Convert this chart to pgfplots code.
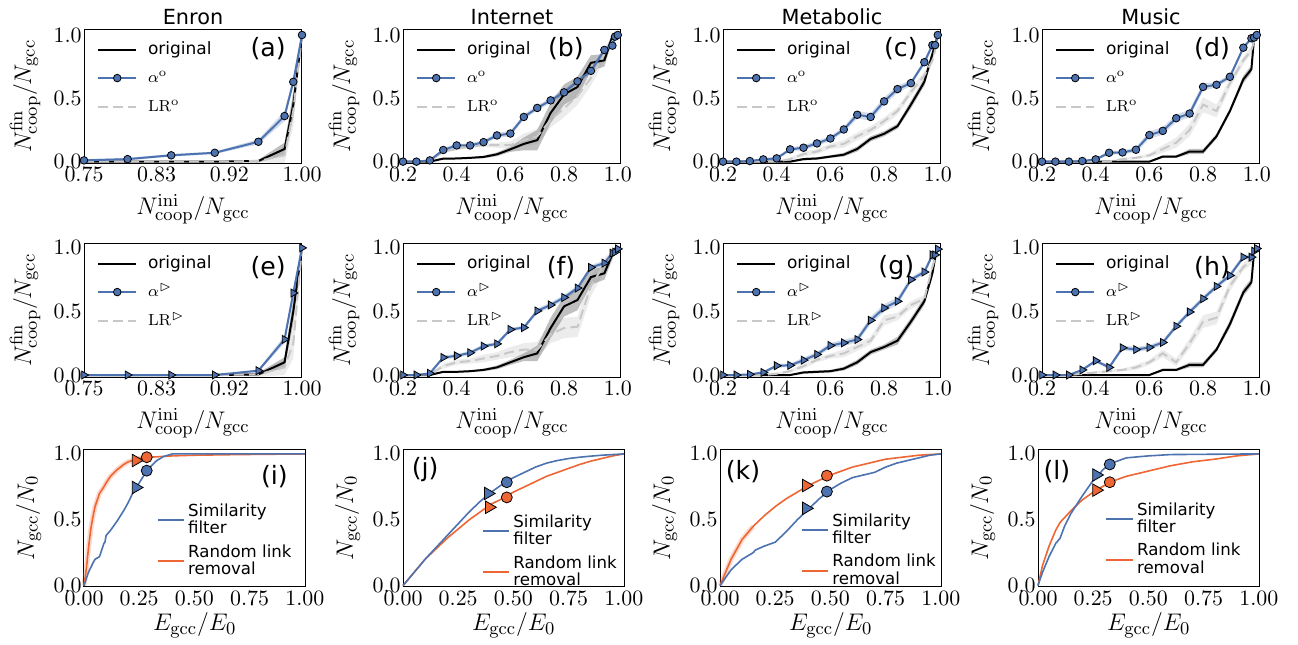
\documentclass[border=0pt]{standalone}
\usepackage{amssymb}
\usepackage[no-math]{fontspec}
\setmainfont{DejaVu Sans}
\usepackage{pgfplots}
\pgfplotsset{compat=1.18}
\usepackage{pgfplotstable}
\usepgfplotslibrary{fillbetween}

\definecolor{cblue}{RGB}{76,114,176}
\definecolor{corange}{RGB}{238,102,51}
\definecolor{lrgray}{RGB}{200,200,200}

% columns: x, alpha, alpha halfwidth, original, orig halfwidth, LR, LR halfwidth
\pgfplotstableread{
x a ea o eo l el
0.75 0.01 0.01 0 0 0 0
0.80 0.02 0.01 0 0 0 0
0.85 0.05 0.01 0 0 0 0
0.90 0.07 0.01 0 0 0 0
0.95 0.157 0.02 0.005 0.01 0.005 0.01
0.98 0.36 0.04 0.10 0.05 0.05 0.06
0.99 0.63 0.03 0.45 0.10 0.40 0.12
1.00 1.0 0.0 1.0 0.0 1.0 0.0
}\tA
\pgfplotstableread{
x a ea o eo l el
0.20 0.0 0.005 0.0 0.0 0.0 0.0
0.25 0.0 0.005 0.0 0.0 0.0 0.0
0.30 0.01 0.01 0.0 0.005 0.005 0.005
0.35 0.092 0.015 0.024 0.005 0.08 0.01
0.40 0.128 0.015 0.025 0.005 0.10 0.01
0.45 0.128 0.015 0.03 0.005 0.12 0.01
0.50 0.154 0.015 0.037 0.01 0.13 0.015
0.55 0.207 0.02 0.058 0.015 0.13 0.02
0.60 0.222 0.02 0.097 0.02 0.13 0.03
0.65 0.353 0.02 0.14 0.05 0.17 0.05
0.70 0.424 0.02 0.17 0.08 0.20 0.06
0.75 0.484 0.02 0.385 0.08 0.33 0.06
0.80 0.547 0.02 0.53 0.08 0.42 0.07
0.85 0.634 0.02 0.59 0.08 0.52 0.07
0.90 0.717 0.02 0.78 0.06 0.66 0.06
0.95 0.882 0.02 0.80 0.05 0.85 0.05
0.98 0.916 0.02 0.99 0.03 0.95 0.03
0.99 0.987 0.01 0.99 0.02 0.98 0.02
1.00 1.0 0.0 1.0 0.0 1.0 0.0
}\tB
\pgfplotstableread{
x a ea o eo l el
0.20 0.0 0.005 0 0 0 0
0.25 0.0 0.005 0 0 0 0
0.30 0.005 0.005 0 0 0 0
0.35 0.018 0.01 0 0 0 0
0.40 0.026 0.01 0 0 0.0 0.005
0.45 0.097 0.015 0.0 0.005 0.02 0.01
0.50 0.11 0.02 0.02 0.01 0.06 0.02
0.55 0.144 0.02 0.025 0.01 0.08 0.02
0.60 0.183 0.02 0.04 0.01 0.12 0.02
0.65 0.254 0.02 0.055 0.015 0.14 0.03
0.70 0.37 0.03 0.10 0.02 0.20 0.03
0.75 0.353 0.03 0.18 0.02 0.25 0.03
0.80 0.476 0.03 0.22 0.02 0.32 0.03
0.85 0.573 0.03 0.28 0.02 0.40 0.03
0.90 0.62 0.02 0.45 0.03 0.55 0.03
0.95 0.785 0.02 0.63 0.03 0.68 0.03
0.98 0.92 0.02 0.85 0.03 0.80 0.03
0.99 0.92 0.02 0.92 0.02 0.88 0.03
1.00 1.0 0.0 1.0 0.0 1.0 0.0
}\tC
\pgfplotstableread{
x a ea o eo l el
0.20 0 0.005 0 0 0 0
0.25 0 0.005 0 0 0 0
0.30 0 0.005 0 0 0 0
0.35 0.005 0.005 0 0 0 0
0.40 0.018 0.01 0 0 0 0
0.45 0.07 0.015 0 0 0.0 0.005
0.50 0.073 0.015 0 0 0.02 0.01
0.55 0.094 0.02 0 0 0.03 0.01
0.60 0.21 0.03 0 0.005 0.05 0.015
0.65 0.243 0.03 0.04 0.01 0.10 0.03
0.70 0.343 0.03 0.04 0.01 0.15 0.04
0.75 0.38 0.03 0.08 0.02 0.25 0.05
0.80 0.59 0.03 0.08 0.02 0.45 0.06
0.85 0.607 0.02 0.20 0.02 0.40 0.05
0.90 0.67 0.02 0.40 0.02 0.62 0.04
0.95 0.90 0.02 0.65 0.03 0.80 0.03
0.98 0.974 0.01 0.73 0.03 0.88 0.03
0.99 0.98 0.01 0.98 0.02 0.95 0.02
1.00 1.0 0 1.0 0 1.0 0
}\tD
\pgfplotstableread{
x a ea o eo l el
0.75 0 0.003 0 0 0 0
0.80 0 0.003 0 0 0 0
0.85 0 0.003 0 0 0 0
0.90 0 0.003 0 0 0 0
0.95 0.034 0.01 0.005 0.01 0.005 0.02
0.98 0.28 0.03 0.10 0.04 0.06 0.06
0.99 0.645 0.03 0.50 0.10 0.25 0.12
1.00 1.0 0 1.0 0 1.0 0
}\tE
\pgfplotstableread{
x a ea o eo l el
0.20 0 0.005 0 0 0 0
0.25 0 0.005 0 0 0 0
0.30 0.013 0.01 0 0.005 0.005 0.005
0.35 0.138 0.015 0.025 0.005 0.07 0.02
0.40 0.151 0.015 0.025 0.005 0.10 0.02
0.45 0.175 0.015 0.03 0.005 0.11 0.02
0.50 0.227 0.015 0.04 0.01 0.13 0.03
0.55 0.245 0.015 0.06 0.015 0.15 0.03
0.60 0.358 0.015 0.10 0.02 0.18 0.04
0.65 0.373 0.015 0.14 0.03 0.20 0.05
0.70 0.504 0.02 0.17 0.06 0.20 0.06
0.75 0.551 0.02 0.37 0.08 0.32 0.07
0.80 0.61 0.02 0.54 0.08 0.37 0.08
0.85 0.684 0.02 0.59 0.08 0.38 0.08
0.90 0.846 0.02 0.77 0.06 0.70 0.08
0.95 0.88 0.02 0.80 0.05 0.87 0.05
0.98 0.958 0.02 0.95 0.04 0.95 0.03
0.99 0.966 0.01 0.99 0.02 0.98 0.02
1.00 0.992 0.005 1.0 0 1.0 0
}\tF
\pgfplotstableread{
x a ea o eo l el
0.20 0 0.005 0 0 0 0
0.25 0 0.005 0 0 0 0
0.30 0.005 0.005 0 0 0 0
0.35 0.02 0.01 0 0 0 0.005
0.40 0.073 0.015 0 0 0.01 0.01
0.45 0.076 0.015 0 0.005 0.03 0.01
0.50 0.117 0.02 0.02 0.01 0.07 0.02
0.55 0.162 0.02 0.025 0.01 0.12 0.02
0.60 0.232 0.02 0.03 0.01 0.15 0.02
0.65 0.253 0.025 0.05 0.015 0.17 0.03
0.70 0.279 0.025 0.10 0.02 0.22 0.03
0.75 0.43 0.03 0.18 0.02 0.27 0.03
0.80 0.527 0.03 0.22 0.02 0.43 0.04
0.85 0.58 0.03 0.27 0.03 0.46 0.03
0.90 0.75 0.02 0.42 0.03 0.55 0.03
0.95 0.81 0.02 0.58 0.03 0.60 0.03
0.98 0.945 0.02 0.80 0.03 0.85 0.03
0.99 0.945 0.02 0.92 0.02 0.92 0.02
1.00 0.99 0.005 1.0 0 1.0 0
}\tG
\pgfplotstableread{
x a ea o eo l el
0.20 0 0.005 0 0 0 0
0.25 0 0.005 0 0 0 0
0.30 0 0.005 0 0 0 0
0.35 0.04 0.01 0 0 0.01 0.005
0.40 0.112 0.015 0 0 0.02 0.01
0.45 0.06 0.015 0 0 0.03 0.01
0.50 0.214 0.02 0 0 0.04 0.01
0.55 0.20 0.02 0 0 0.06 0.02
0.60 0.217 0.02 0 0.005 0.10 0.02
0.65 0.256 0.02 0.04 0.01 0.17 0.03
0.70 0.384 0.02 0.04 0.01 0.10 0.03
0.75 0.496 0.02 0.08 0.02 0.25 0.04
0.80 0.60 0.02 0.08 0.02 0.42 0.05
0.85 0.697 0.02 0.20 0.02 0.45 0.05
0.90 0.783 0.02 0.40 0.03 0.70 0.04
0.95 0.927 0.02 0.65 0.03 0.85 0.03
0.98 0.927 0.02 0.73 0.03 0.90 0.03
0.99 0.974 0.01 0.97 0.02 0.95 0.02
1.00 0.995 0.005 1.0 0 1.0 0
}\tH

\pgfplotsset{
 every axis title shift=0pt,
 pbase/.style={
   scale only axis, anchor=south west,
   axis line style={line width=0.5pt},
   major tick length=0pt,
   tick label style={font=\fontsize{11.4}{13}\selectfont},
   xticklabel style={inner sep=2pt},
   yticklabel style={inner sep=1pt},
   label style={font=\fontsize{12.8}{15}\selectfont},
   ytick={0,0.5,1}, yticklabels={$0.0$,$0.5$,$1.0$},
   clip=false, legend cell align=left,
 },
 rowA/.style={pbase, width=109pt, height=67pt,
   xlabel={$N^{\mathrm{ini}}_{\mathrm{coop}}/N_{\mathrm{gcc}}$},
   ylabel={$N^{\mathrm{fin}}_{\mathrm{coop}}/N_{\mathrm{gcc}}$},
   xlabel style={at={(axis description cs:0.5,-0.385)}, anchor=base},
   ylabel style={at={(axis description cs:-0.27,0.5)}, anchor=center},
   title style={at={(axis description cs:0.5,1)}, anchor=base, yshift=2.2pt, font=\fontsize{10.4}{12}\selectfont},
   legend style={draw=none, fill=none, at={(0.06,0.93)}, anchor=north west, inner sep=0pt,
     font=\fontsize{8.5}{10}\selectfont, row sep=3.75pt, column sep=4.5pt,
     nodes={inner sep=1pt, text height=6.5pt, text depth=2pt}},
   legend image code/.code={\draw[mark repeat=2,mark phase=2,##1] plot coordinates {(0cm,0cm) (0.33cm,0cm) (0.66cm,0cm)};},
 },
 rowAy/.style={ymin=-0.013, ymax=1.045},
 rowBy/.style={ymin=-0.018, ymax=1.036},
 xA/.style={xmin=0.75,xmax=1,xtick={0.75,0.8333,0.9167,1},xticklabels={$0.75$,$0.83$,$0.92$,$1.00$}},
 xB/.style={xmin=0.2,xmax=1.012,xtick={0.2,0.4,0.6,0.8,1.0},xticklabels={$0.2$,$0.4$,$0.6$,$0.8$,$1.0$}},
 mcirc/.style={mark=*, mark size=1.9pt, mark options={fill=cblue, draw=black, line width=0.4pt, solid}},
 mtri/.style={mark=triangle*, mark size=2.3pt, mark options={rotate=-90, fill=cblue, draw=black, line width=0.4pt, solid}},
 rowC/.style={pbase, width=110.75pt, height=68.7pt, xmin=0, xmax=1.003, ymin=-0.008, ymax=1.035,
   xtick={0,0.25,0.5,0.75,1}, xticklabels={$0.00$,$0.25$,$0.50$,$0.75$,$1.00$},
   xlabel={$E_{\mathrm{gcc}}/E_0$}, ylabel={$N_{\mathrm{gcc}}/N_0$},
   xlabel style={at={(axis description cs:0.5,-0.32)}, anchor=base},
   ylabel style={at={(axis description cs:-0.25,0.5)}, anchor=center},
   legend style={draw=none, fill=none, anchor=north west, inner sep=0pt,
     font=\fontsize{8.3}{8.6}\selectfont,
     cells={align=left}, row sep=2pt, column sep=0.5pt, nodes={inner sep=1pt}},
   legend image code/.code={\draw[##1] (0cm,0cm) -- (0.47cm,0cm);},
 },
 bc/.style={only marks, mark=*, mark size=2.75pt, mark options={draw=black, line width=0.4pt, fill=cblue}},
 oc/.style={only marks, mark=*, mark size=2.75pt, mark options={draw=black, line width=0.4pt, fill=corange}},
 bt/.style={only marks, mark=triangle*, mark size=3.6pt, mark options={rotate=-90, draw=black, line width=0.4pt, fill=cblue}},
 ot/.style={only marks, mark=triangle*, mark size=3.6pt, mark options={rotate=-90, draw=black, line width=0.4pt, fill=corange}},
}

\newcommand{\bands}[1]{%
 \addplot[name path=au,draw=none,forget plot] table[x=x,y expr=\thisrow{a}+\thisrow{ea}]{#1};
 \addplot[name path=al,draw=none,forget plot] table[x=x,y expr=\thisrow{a}-\thisrow{ea}]{#1};
 \addplot[fill=cblue,fill opacity=0.25,draw=none,forget plot] fill between[of=au and al];
 \addplot[name path=ou,draw=none,forget plot] table[x=x,y expr=\thisrow{o}+\thisrow{eo}]{#1};
 \addplot[name path=ol,draw=none,forget plot] table[x=x,y expr=\thisrow{o}-\thisrow{eo}]{#1};
 \addplot[fill=black,fill opacity=0.25,draw=none,forget plot] fill between[of=ou and ol];
 \addplot[name path=lu,draw=none,forget plot] table[x=x,y expr=\thisrow{l}+\thisrow{el}]{#1};
 \addplot[name path=ll,draw=none,forget plot] table[x=x,y expr=\thisrow{l}-\thisrow{el}]{#1};
 \addplot[fill=gray,fill opacity=0.15,draw=none,forget plot] fill between[of=lu and ll];
}

% #1 x, #2 y, #3 extra options, #4 table, #5 label pos, #6 label, #7 marker style, #8 superscript
\newcommand{\panel}[8]{%
\begin{axis}[rowA, #3, at={(#1,#2)}]
 \bands{#4}
 \addplot[black, line width=1pt, forget plot] table[x=x,y=o]{#4};
 \addplot[lrgray, line width=1pt, dash pattern=on 5pt off 2.5pt, forget plot] table[x=x,y=l]{#4};
 \addplot[cblue, line width=1pt, #7, forget plot] table[x=x,y=a]{#4};
 \node[font=\fontsize{12.6}{14}\selectfont] at (rel axis cs:#5) {#6};
 \addlegendimage{black, line width=1pt}\addlegendentry{original}
 \addlegendimage{cblue, line width=1pt, mcirc}\addlegendentry{$\alpha^{#8}$}
 \addlegendimage{lrgray, line width=1pt, dash pattern=on 5pt off 2.5pt}\addlegendentry{$\mathrm{LR}^{#8}$}
\end{axis}}

\begin{document}
\begin{tikzpicture}

\panel{42pt}{240.35pt}{xA, rowAy, title=Enron}{\tA}{0.845,0.856}{(a)}{mcirc}{\mathrm{o}}
\panel{201.5pt}{240.35pt}{xB, rowAy, title=Internet}{\tB}{0.747,0.856}{(b)}{mcirc}{\mathrm{o}}
\panel{361.5pt}{240.35pt}{xB, rowAy, title=Metabolic}{\tC}{0.816,0.856}{(c)}{mcirc}{\mathrm{o}}
\panel{521pt}{240.35pt}{xB, rowAy, title=Music}{\tD}{0.78,0.856}{(d)}{mcirc}{\mathrm{o}}

\panel{42pt}{133.35pt}{xA, rowBy}{\tE}{0.845,0.82}{(e)}{mtri}{\vartriangleright}
\panel{201.5pt}{133.35pt}{xB, rowBy}{\tF}{0.725,0.82}{(f)}{mtri}{\vartriangleright}
\panel{361.5pt}{133.35pt}{xB, rowBy}{\tG}{0.795,0.82}{(g)}{mtri}{\vartriangleright}
\panel{521pt}{133.35pt}{xB, rowBy}{\tH}{0.78,0.82}{(h)}{mtri}{\vartriangleright}

% (i)
\begin{axis}[rowC, at={(42pt,28.65pt)}, legend style={at={(0.326,0.62)}}]
 \addplot[corange, line width=2.5pt, opacity=0.25, forget plot] coordinates {(0,0) (0.01,0.12) (0.02,0.28) (0.03,0.42) (0.04,0.52) (0.05,0.6) (0.07,0.7) (0.09,0.75) (0.1,0.78) (0.12,0.83) (0.15,0.88) (0.18,0.92) (0.2,0.94) (0.25,0.965) (0.3,0.975)};
 \addplot[corange, line width=0.8pt, forget plot] coordinates {(0,0) (0.01,0.12) (0.02,0.28) (0.03,0.42) (0.04,0.52) (0.05,0.6) (0.07,0.7) (0.09,0.75) (0.1,0.78) (0.12,0.83) (0.15,0.88) (0.18,0.92) (0.2,0.94) (0.25,0.965) (0.3,0.975) (0.4,0.985) (0.5,0.99) (0.7,0.995) (1,1)};
 \addplot[cblue, line width=0.8pt, forget plot] coordinates {(0,0) (0.01,0.05) (0.02,0.1) (0.04,0.17) (0.05,0.2) (0.07,0.22) (0.08,0.27) (0.09,0.32) (0.095,0.33) (0.1,0.38) (0.12,0.42) (0.15,0.49) (0.18,0.57) (0.2,0.63) (0.22,0.70) (0.25,0.78) (0.28,0.86) (0.3,0.90) (0.33,0.95) (0.36,0.98) (0.4,1.0) (1,1)};
 \addplot[bt, forget plot] coordinates {(0.235,0.745)};
 \addplot[bc, forget plot] coordinates {(0.284,0.873)};
 \addplot[ot, forget plot] coordinates {(0.235,0.95)};
 \addplot[oc, forget plot] coordinates {(0.284,0.975)};
 \node[font=\fontsize{12.6}{14}\selectfont] at (rel axis cs:0.86,0.80) {(i)};
 \addlegendimage{cblue, line width=0.9pt}\addlegendentry{Similarity\\filter}
 \addlegendimage{corange, line width=0.9pt}\addlegendentry{Random link\\removal}
\end{axis}

% (j)
\begin{axis}[rowC, at={(201.5pt,28.65pt)}, legend style={at={(0.354,0.54)}}]
 \addplot[corange, line width=0.8pt, forget plot] coordinates {(0,0) (0.05,0.1) (0.1,0.2) (0.15,0.28) (0.2,0.36) (0.25,0.43) (0.3,0.50) (0.35,0.56) (0.4,0.62) (0.45,0.66) (0.5,0.71) (0.55,0.75) (0.6,0.79) (0.65,0.83) (0.7,0.86) (0.75,0.89) (0.8,0.92) (0.85,0.945) (0.9,0.965) (0.95,0.985) (1,1)};
 \addplot[cblue, line width=0.8pt, forget plot] coordinates {(0,0) (0.05,0.1) (0.1,0.2) (0.15,0.29) (0.2,0.38) (0.25,0.47) (0.3,0.56) (0.35,0.64) (0.4,0.71) (0.45,0.77) (0.5,0.82) (0.55,0.86) (0.6,0.90) (0.65,0.93) (0.7,0.95) (0.75,0.965) (0.8,0.975) (0.85,0.983) (0.9,0.99) (0.95,0.995) (1,1)};
 \addplot[bt, forget plot] coordinates {(0.385,0.70)};
 \addplot[bc, forget plot] coordinates {(0.47,0.785)};
 \addplot[ot, forget plot] coordinates {(0.39,0.595)};
 \addplot[oc, forget plot] coordinates {(0.47,0.67)};
 \node[font=\fontsize{12.6}{14}\selectfont] at (rel axis cs:0.10,0.85) {(j)};
 \addlegendimage{cblue, line width=0.9pt}\addlegendentry{Similarity\\filter}
 \addlegendimage{corange, line width=0.9pt}\addlegendentry{Random link\\removal}
\end{axis}

% (k)
\begin{axis}[rowC, at={(360pt,28.65pt)}, legend style={at={(0.363,0.55)}}]
 \addplot[corange, line width=2.5pt, opacity=0.25, forget plot] coordinates {(0,0) (0.05,0.2) (0.1,0.35) (0.15,0.45)};
 \addplot[corange, line width=0.8pt, forget plot] coordinates {(0,0) (0.05,0.2) (0.1,0.35) (0.15,0.45) (0.2,0.53) (0.25,0.60) (0.3,0.66) (0.35,0.71) (0.4,0.76) (0.45,0.80) (0.5,0.84) (0.55,0.87) (0.6,0.90) (0.65,0.92) (0.7,0.94) (0.75,0.96) (0.8,0.97) (0.9,0.99) (1,1)};
 \addplot[cblue, line width=0.8pt, forget plot] coordinates {(0,0) (0.05,0.12) (0.1,0.2) (0.15,0.25) (0.16,0.27) (0.2,0.3) (0.25,0.33) (0.3,0.41) (0.35,0.50) (0.4,0.58) (0.45,0.66) (0.5,0.73) (0.55,0.78) (0.6,0.82) (0.65,0.84) (0.7,0.86) (0.75,0.90) (0.8,0.93) (0.85,0.95) (0.9,0.97) (0.95,0.99) (1,1)};
 \addplot[bt, forget plot] coordinates {(0.39,0.587)};
 \addplot[bc, forget plot] coordinates {(0.484,0.714)};
 \addplot[ot, forget plot] coordinates {(0.39,0.76)};
 \addplot[oc, forget plot] coordinates {(0.484,0.835)};
 \node[font=\fontsize{12.6}{14}\selectfont] at (rel axis cs:0.104,0.84) {(k)};
 \addlegendimage{cblue, line width=0.9pt}\addlegendentry{Similarity\\filter}
 \addlegendimage{corange, line width=0.9pt}\addlegendentry{Random link\\removal}
\end{axis}

% (l)
\begin{axis}[rowC, at={(519pt,28.65pt)}, legend style={at={(0.303,0.63)}}]
 \addplot[corange, line width=0.8pt, forget plot] coordinates {(0,0) (0.02,0.15) (0.05,0.3) (0.08,0.42) (0.1,0.48) (0.15,0.57) (0.2,0.65) (0.25,0.71) (0.3,0.76) (0.35,0.80) (0.4,0.83) (0.5,0.87) (0.6,0.91) (0.7,0.94) (0.8,0.96) (0.9,0.985) (1,1)};
 \addplot[cblue, line width=0.8pt, forget plot] coordinates {(0,0) (0.02,0.1) (0.05,0.22) (0.08,0.32) (0.1,0.36) (0.12,0.45) (0.15,0.55) (0.2,0.68) (0.25,0.80) (0.3,0.89) (0.35,0.94) (0.4,0.97) (0.5,0.985) (0.6,0.995) (1,1)};
 \addplot[bt, forget plot] coordinates {(0.264,0.84)};
 \addplot[bc, forget plot] coordinates {(0.325,0.92)};
 \addplot[ot, forget plot] coordinates {(0.264,0.725)};
 \addplot[oc, forget plot] coordinates {(0.325,0.785)};
 \node[font=\fontsize{12.6}{14}\selectfont] at (rel axis cs:0.085,0.84) {(l)};
 \addlegendimage{cblue, line width=0.9pt}\addlegendentry{Similarity\\filter}
 \addlegendimage{corange, line width=0.9pt}\addlegendentry{Random link\\removal}
\end{axis}

\pgfresetboundingbox
\path[use as bounding box] (0,0) rectangle (649pt,322pt);
\end{tikzpicture}
\end{document}
